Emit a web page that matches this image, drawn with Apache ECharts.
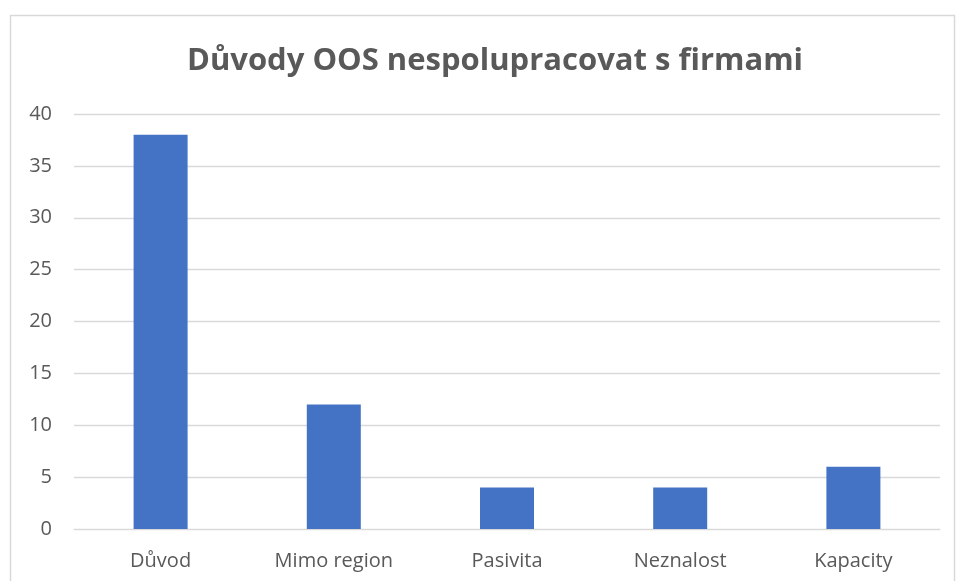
<!DOCTYPE html>
<html lang="cs" style="height: 100%">
<head>
  <meta charset="utf-8">
</head>
<body style="height: 100%; margin: 0; background: #fff">
  <div id="container" style="height: 100%"></div>
  <script type="text/javascript" src="https://cdn.jsdelivr.net/npm/echarts@6/dist/echarts.min.js"></script>
  <script type="text/javascript">
    const categories = ['Důvod', 'Mimo region', 'Pasivita', 'Neznalost', 'Kapacity'];
    const values = [38, 12, 4, 4, 6];

    var dom = document.getElementById('container');
    var myChart = echarts.init(dom, null, { renderer: 'canvas' });
    var font = '"Open Sans", "Noto Sans", sans-serif';

    var option = {
      backgroundColor: '#fff',
      animation: false,
      title: {
        text: 'Důvody OOS nespolupracovat s firmami',
        left: 490,
        top: 41,
        textAlign: 'center',
        textStyle: {
          color: '#595959',
          fontSize: 31,
          fontWeight: 'bold',
          fontFamily: font
        }
      },
      graphic: [
        {
          type: 'rect',
          shape: { x: 10.5, y: 15.5, width: 944, height: 580 },
          style: { fill: 'none', stroke: '#d9d9d9', lineWidth: 1.5 },
          silent: true
        }
      ],
      grid: { left: 74, right: 17, top: 114, bottom: 52 },
      xAxis: {
        type: 'category',
        data: categories,
        axisLine: { lineStyle: { color: '#d9d9d9' } },
        axisTick: { show: false },
        axisLabel: { color: '#595959', fontSize: 20, fontFamily: font, margin: 22 }
      },
      yAxis: {
        type: 'value',
        min: 0,
        max: 40,
        interval: 5,
        axisLine: { show: false },
        axisTick: { show: false },
        splitLine: { lineStyle: { color: '#d9d9d9', width: 1.3 } },
        axisLabel: { color: '#595959', fontSize: 20, fontFamily: font, margin: 22 }
      },
      series: [
        {
          type: 'bar',
          data: values,
          barWidth: 54,
          itemStyle: { color: '#4472c4' }
        }
      ]
    };

    myChart.setOption(option);
    window.addEventListener('resize', myChart.resize);
  </script>
</body>
</html>
